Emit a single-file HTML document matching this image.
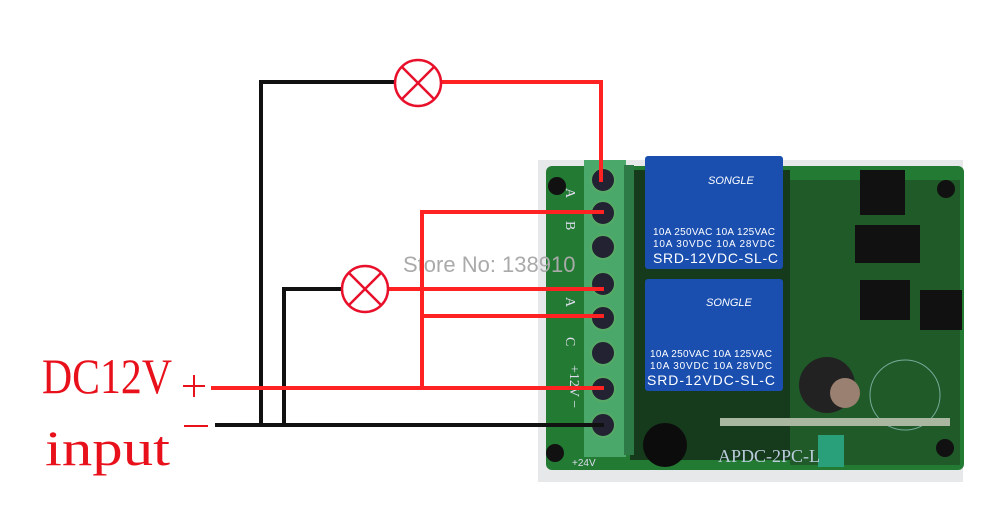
<!DOCTYPE html>
<html><head><meta charset="utf-8"><style>
body{margin:0;background:#fff;width:1000px;height:526px;overflow:hidden}
svg{display:block}
</style></head><body>
<svg width="1000" height="526" viewBox="0 0 1000 526" xmlns="http://www.w3.org/2000/svg">
<rect width="1000" height="526" fill="#fff"/>
<rect x="538" y="160" width="425" height="322" fill="#e6e8ea"/>
<rect x="546" y="166" width="418" height="304" rx="6" fill="#237a33"/>
<rect x="630" y="170" width="160" height="290" fill="#163a1c"/>
<rect x="790" y="180" width="170" height="285" fill="#1f5a28"/>
<circle cx="557" cy="186" r="9" fill="#111"/>
<circle cx="946" cy="189" r="9" fill="#111"/>
<circle cx="555" cy="453" r="9" fill="#111"/>
<circle cx="945" cy="448" r="9" fill="#111"/>
<rect x="584" y="160" width="42" height="297" fill="#4aa86a"/>
<rect x="624" y="165" width="10" height="290" fill="#2d7a46"/>
<g fill="#223" stroke="#5a6" stroke-width="2">
<circle cx="603" cy="180" r="12"/><circle cx="603" cy="213" r="12"/><circle cx="603" cy="247" r="12"/>
<circle cx="603" cy="284" r="12"/><circle cx="603" cy="318" r="12"/><circle cx="603" cy="353" r="12"/>
<circle cx="603" cy="389" r="12"/><circle cx="603" cy="425" r="12"/>
</g>
<g font-family="Liberation Serif,serif" font-size="14" fill="#dde">
<text x="566" y="196" transform="rotate(90 570 192)">A</text>
<text x="566" y="229" transform="rotate(90 570 225)">B</text>
<text x="566" y="305" transform="rotate(90 570 301)">A</text>
<text x="566" y="345" transform="rotate(90 570 341)">C</text>
<text x="560" y="375" transform="rotate(90 570 375)">+12V −</text>
<text x="572" y="466" font-size="10" font-family="Liberation Sans,sans-serif">+24V</text>
</g>
<g font-family="Liberation Sans,sans-serif" fill="#fff">
<rect x="645" y="156" width="138" height="113" rx="3" fill="#1a4fb0"/>
<text x="708" y="184" font-size="11" font-style="italic">SONGLE</text>
<text x="653" y="235" font-size="10" textLength="122">10A 250VAC 10A 125VAC</text>
<text x="653" y="247" font-size="10" textLength="122">10A 30VDC 10A 28VDC</text>
<text x="653" y="263" font-size="14" textLength="125">SRD-12VDC-SL-C</text>
<rect x="645" y="279" width="138" height="112" rx="3" fill="#1a4fb0"/>
<text x="706" y="306" font-size="11" font-style="italic">SONGLE</text>
<text x="650" y="357" font-size="10" textLength="122">10A 250VAC 10A 125VAC</text>
<text x="650" y="369" font-size="10" textLength="122">10A 30VDC 10A 28VDC</text>
<text x="647" y="385" font-size="14" textLength="128">SRD-12VDC-SL-C</text>
</g>
<rect x="860" y="170" width="45" height="45" fill="#111"/>
<rect x="855" y="225" width="65" height="38" fill="#111"/>
<rect x="860" y="280" width="50" height="40" fill="#111"/>
<rect x="920" y="290" width="42" height="40" fill="#111"/>
<circle cx="827" cy="385" r="28" fill="#222"/>
<circle cx="845" cy="393" r="15" fill="#9a8070"/>
<circle cx="905" cy="395" r="35" fill="none" stroke="#7a9" stroke-width="1"/>
<circle cx="665" cy="445" r="22" fill="#0c0c0c"/>
<rect x="720" y="418" width="230" height="8" fill="#aab7a0"/>
<rect x="818" y="435" width="26" height="32" fill="#2aa07a"/>
<text x="718" y="462" font-family="Liberation Serif,serif" font-size="18" fill="#bcd">APDC-2PC-L</text>
<text x="403" y="272" font-family="Liberation Sans,sans-serif" font-size="22" fill="#aaa">Store No: 138910</text>
<g fill="none" stroke-width="4" stroke-linecap="square">
<path d="M395 82 H261 V425" stroke="#111"/>
<path d="M341 289 H284 V425" stroke="#111"/>
<path d="M217 425 H602" stroke="#111"/>
<path d="M443 82 H601 V180" stroke="#f22"/>
<path d="M390 289 H602" stroke="#f22"/>
<path d="M422 212 H602 M422 212 V388 M422 316 H602" stroke="#f22"/>
<path d="M213 388 H602" stroke="#f22"/>
</g>
<g fill="#fff" stroke="#e8102a" stroke-width="2.5">
<circle cx="418" cy="83" r="23"/>
<path d="M402 67 L434 99 M434 67 L402 99"/>
<circle cx="365" cy="289" r="23"/>
<path d="M349 273 L381 305 M381 273 L349 305"/>
</g>
<g font-family="Liberation Serif,serif" fill="#e8101a">
<text x="42" y="393" font-size="50" textLength="130" lengthAdjust="spacingAndGlyphs">DC12V</text>
<text x="45" y="465" font-size="50" textLength="125" lengthAdjust="spacingAndGlyphs">input</text>
<path d="M183 386 H205 M194 375 V397" stroke="#e8101a" stroke-width="2"/>
<path d="M184 426 H208" stroke="#e8101a" stroke-width="2"/>
</g>
</svg>
</body></html>
